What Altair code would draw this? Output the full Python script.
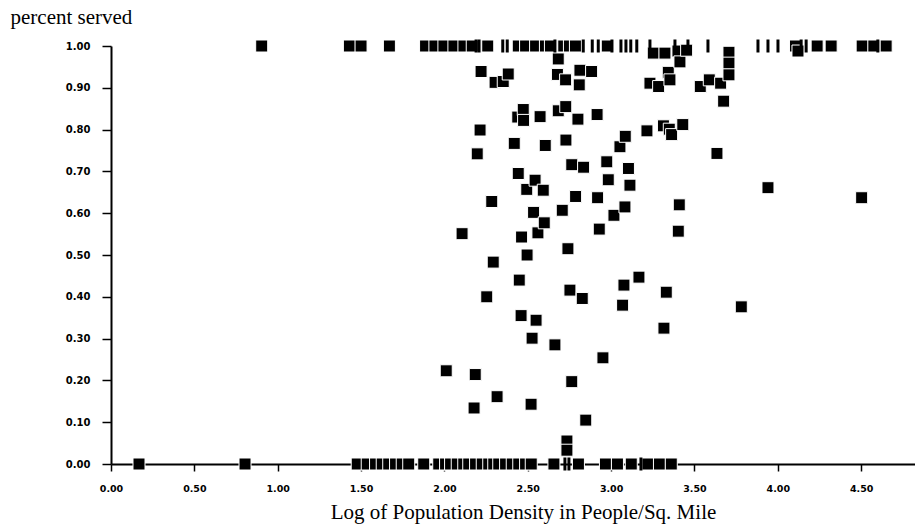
import altair as alt
import pandas as pd

# ---- data ----
# interior points (log density, percent served)
mid_x = [2.683, 2.220, 2.383, 2.353, 2.304, 2.813, 2.883, 2.678, 2.727, 2.809,
         3.253, 3.323, 3.401, 3.453, 3.413, 3.343, 3.353, 3.233, 3.285, 3.535,
         3.707, 3.707, 3.707, 3.589, 3.657, 3.675, 4.121, 3.635, 3.941, 4.503,
         2.440, 2.473, 2.475, 2.574, 2.683, 2.728, 2.801, 2.916, 2.214, 2.419,
         2.605, 2.729, 2.197, 3.085, 3.053, 3.215, 3.314, 3.349, 3.363, 3.430,
         2.764, 2.835, 2.974, 3.104, 2.443, 2.544, 2.494, 2.593, 2.983, 3.113,
         2.284, 2.787, 2.919, 3.409, 3.083, 2.535, 2.707, 3.017, 2.599, 2.106,
         2.463, 2.561, 2.929, 3.403, 2.741, 2.496, 2.293, 2.449, 2.753, 2.827,
         3.077, 3.167, 3.331, 2.254, 3.069, 3.781, 2.460, 2.550, 3.317, 2.526,
         2.663, 2.951, 2.011, 2.185, 2.764, 2.316, 2.178, 2.520, 2.848, 2.735,
         2.735]
mid_y = [0.969, 0.939, 0.933, 0.915, 0.913, 0.942, 0.939, 0.932, 0.919, 0.907,
         0.983, 0.983, 0.988, 0.990, 0.962, 0.937, 0.919, 0.911, 0.903, 0.903,
         0.985, 0.959, 0.931, 0.919, 0.911, 0.868, 0.988, 0.743, 0.661, 0.637,
         0.830, 0.848, 0.822, 0.831, 0.845, 0.855, 0.825, 0.836, 0.799, 0.767,
         0.762, 0.775, 0.742, 0.784, 0.759, 0.797, 0.809, 0.801, 0.788, 0.812,
         0.716, 0.710, 0.723, 0.707, 0.695, 0.679, 0.657, 0.655, 0.680, 0.667,
         0.628, 0.640, 0.637, 0.620, 0.615, 0.602, 0.607, 0.595, 0.577, 0.551,
         0.543, 0.553, 0.562, 0.557, 0.515, 0.500, 0.483, 0.440, 0.416, 0.396,
         0.428, 0.447, 0.411, 0.400, 0.380, 0.376, 0.355, 0.344, 0.325, 0.301,
         0.285, 0.254, 0.223, 0.214, 0.197, 0.161, 0.134, 0.143, 0.105, 0.055,
         0.033]

# points at 100% served
top_sq_x = [0.904, 1.430, 1.500, 1.670, 1.887, 1.943, 1.997, 2.057, 2.117, 2.167,
            2.260, 2.443, 2.487, 2.547, 2.606, 2.636, 2.716, 2.750, 2.786, 2.977,
            4.106, 4.236, 4.320, 4.506, 4.576, 4.650]
top_tick_x = [2.190, 2.208, 2.350, 2.377, 2.663, 2.833, 2.887, 2.923, 3.005, 3.059,
              3.089, 3.118, 3.154, 3.233, 3.383, 3.461, 3.581, 3.881, 3.941, 4.001,
              4.140, 4.170, 4.600]

# points at 0% served
bot_sq_x = [0.168, 0.804, 1.477, 1.537, 1.587, 1.627, 1.666, 1.707, 1.747, 1.786,
            1.876, 1.966, 2.007, 2.037, 2.077, 2.116, 2.146, 2.187, 2.227, 2.266,
            2.296, 2.326, 2.367, 2.407, 2.446, 2.487, 2.521, 2.657, 2.804, 2.966,
            3.038, 3.121, 3.221, 3.290, 3.361]
bot_tick_x = [2.723, 2.747, 3.179]

x_ticks = [0.0, 0.5, 1.0, 1.5, 2.0, 2.5, 3.0, 3.5, 4.0, 4.5]
y_ticks = [0.0, 0.1, 0.2, 0.3, 0.4, 0.5, 0.6, 0.7, 0.8, 0.9, 1.0]
x_max = 4.823

x_title = "Log of Population Density in People/Sq. Mile"
y_title = "percent served"

# ---- tables ----
squares = pd.DataFrame({
    "x": mid_x + top_sq_x + bot_sq_x,
    "y": mid_y + [1.0] * len(top_sq_x) + [0.0] * len(bot_sq_x),
}).sort_values("x", kind="stable").reset_index(drop=True)
ticks = pd.DataFrame({
    "x": top_tick_x + bot_tick_x,
    "y": [1.0] * len(top_tick_x) + [0.0] * len(bot_tick_x),
})

W, H = 804, 418
xscale = alt.Scale(domain=[0, x_max], nice=False, zero=False)
yscale = alt.Scale(domain=[0, 1], nice=False)

label_font = "DejaVu Sans"
title_font = "Liberation Serif"

xaxis = alt.Axis(values=x_ticks, format=".2f", grid=False,
                 domain=True, domainColor="black", domainWidth=2,
                 tickSize=7, tickWidth=1.5, tickColor="black",
                 labelFont=label_font, labelFontWeight="bold", labelFontSize=9.5,
                 labelColor="black", labelPadding=12, labelFlush=False,
                 title=x_title, titleFont=title_font, titleFontSize=21,
                 titleFontWeight="normal", titleColor="black",
                 titleX=412, titleY=54, titleAlign="center",
                 titleBaseline="alphabetic")
yaxis = alt.Axis(values=y_ticks, format=".2f", grid=False,
                 domain=True, domainColor="black", domainWidth=2,
                 tickSize=9, tickWidth=1.5, tickColor="black",
                 labelFont=label_font, labelFontWeight="bold", labelFontSize=10,
                 labelColor="black", labelPadding=12, labelFlush=False,
                 title=y_title, titleFont=title_font, titleFontSize=21,
                 titleFontWeight="normal", titleColor="black", titleAngle=0,
                 titleX=-101, titleY=-23, titleAlign="left",
                 titleBaseline="alphabetic")

pts = alt.Chart(squares).mark_square(
    size=144, filled=True, color="black", stroke="white", strokeWidth=1,
    opacity=1
).encode(
    x=alt.X("x:Q", scale=xscale, axis=xaxis),
    y=alt.Y("y:Q", scale=yscale, axis=yaxis),
)

bars = alt.Chart(ticks).mark_tick(
    orient="vertical", thickness=3, size=13, color="black", opacity=1
).encode(
    x=alt.X("x:Q", scale=xscale),
    y=alt.Y("y:Q", scale=yscale),
)

chart = alt.layer(pts, bars).properties(
    width=W, height=H,
    autosize=alt.AutoSizeParams(type="none"),
    padding={"left": 111, "top": 46, "right": 0, "bottom": 63},
    background="white",
).configure_view(stroke=None)

chart.save("out.html", embed_options={"renderer": "svg", "actions": False})
